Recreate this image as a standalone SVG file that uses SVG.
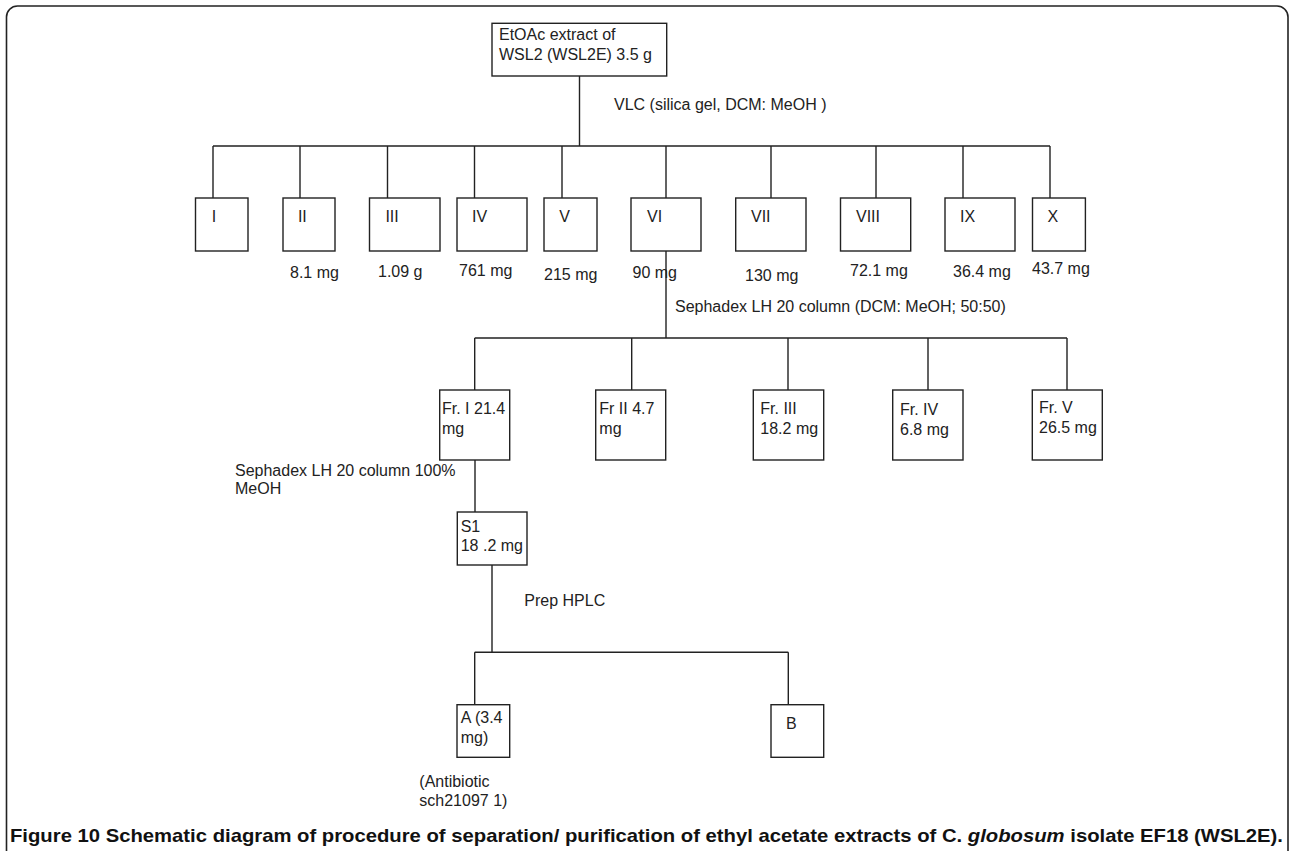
<svg xmlns="http://www.w3.org/2000/svg" width="1289" height="851" viewBox="0 0 1289 851">
<style>
.b{fill:#fff;stroke:#222;stroke-width:1.4}
.t{font-family:"Liberation Sans",Arial,sans-serif;font-size:16px;fill:#222}
.c{fill:none;stroke:#222;stroke-width:1.4}
.cap{font-family:"Liberation Sans Narrow","Liberation Sans",Arial,sans-serif;font-size:18.5px;font-weight:bold;fill:#111}
</style>
<rect x="0" y="0" width="1289" height="851" fill="#fff"/>
<path d="M6.5,851 V17 A11,11 0 0 1 17.5,6 H1277 A11,11 0 0 1 1288,17 V851" fill="none" stroke="#222" stroke-width="1.6"/>
<g id="connectors" class="c">
<path d="M579.5,76 V146 M213,146 H1050 M213,146 V198 M300,146 V198 M387.5,146 V198 M474.5,146 V198 M562,146 V198 M666,146 V198 M771,146 V198 M876,146 V198 M963,146 V198 M1050,146 V198"/>
<path d="M666,251 V338 M474.7,338 H1067 M474.7,338 V390 M631.7,338 V390 M788,338 V390 M928,338 V390 M1067,338 V390"/>
<path d="M475,460 V512"/>
<path d="M492,565 V652.3 M474.7,652.3 H788.3 M474.7,652.3 V704.7 M788.3,652.3 V704.7"/>
</g>
<g id="n-top"><rect class="b" x="492" y="23.3" width="174.7" height="52.7"/><text class="t" x="499" y="39.5">EtOAc extract of</text><text class="t" x="499" y="60">WSL2 (WSL2E) 3.5 g</text></g>
<text class="t" x="614" y="110">VLC (silica gel, DCM: MeOH )</text>
<g id="n-I"><rect class="b" x="195.5" y="198" width="52.5" height="53"/><text class="t" x="211.8" y="222">I</text></g>
<g id="n-II"><rect class="b" x="283" y="198" width="52" height="53"/><text class="t" x="297.9" y="222">II</text><text class="t" x="290" y="278">8.1 mg</text></g>
<g id="n-III"><rect class="b" x="369.5" y="198" width="70.5" height="53"/><text class="t" x="385.4" y="222">III</text><text class="t" x="378" y="277">1.09 g</text></g>
<g id="n-IV"><rect class="b" x="457" y="198" width="70" height="53"/><text class="t" x="472" y="222">IV</text><text class="t" x="459" y="276">761 mg</text></g>
<g id="n-V"><rect class="b" x="544" y="198" width="53" height="53"/><text class="t" x="559.3" y="222">V</text><text class="t" x="544" y="279.5">215 mg</text></g>
<g id="n-VI"><rect class="b" x="631" y="198" width="70" height="53"/><text class="t" x="647" y="222">VI</text><text class="t" x="632.5" y="277.5">90 mg</text></g>
<g id="n-VII"><rect class="b" x="735.7" y="198" width="70.3" height="53"/><text class="t" x="751" y="222">VII</text><text class="t" x="745" y="281">130 mg</text></g>
<g id="n-VIII"><rect class="b" x="840.5" y="198" width="70.2" height="53"/><text class="t" x="856" y="222">VIII</text><text class="t" x="850" y="276">72.1 mg</text></g>
<g id="n-IX"><rect class="b" x="945" y="198" width="70" height="53"/><text class="t" x="960" y="222">IX</text><text class="t" x="953" y="276.5">36.4 mg</text></g>
<g id="n-X"><rect class="b" x="1032.5" y="198" width="52.9" height="53"/><text class="t" x="1047.5" y="222">X</text><text class="t" x="1032" y="273.5">43.7 mg</text></g>
<text class="t" x="675" y="311.7">Sephadex LH 20 column (DCM: MeOH; 50:50)</text>
<g id="n-FrI"><rect class="b" x="439.7" y="390" width="70" height="70"/><text class="t" x="442" y="414">Fr. I 21.4</text><text class="t" x="442" y="434">mg</text></g>
<g id="n-FrII"><rect class="b" x="595.7" y="390" width="70" height="70"/><text class="t" x="599.3" y="414">Fr II 4.7</text><text class="t" x="599.3" y="434">mg</text></g>
<g id="n-FrIII"><rect class="b" x="753.3" y="390" width="70.4" height="70"/><text class="t" x="760.3" y="414">Fr. III</text><text class="t" x="760.3" y="434">18.2 mg</text></g>
<g id="n-FrIV"><rect class="b" x="892.7" y="390" width="70.3" height="70"/><text class="t" x="900" y="415">Fr. IV</text><text class="t" x="900" y="435">6.8 mg</text></g>
<g id="n-FrV"><rect class="b" x="1032.3" y="390" width="70" height="70"/><text class="t" x="1039" y="413">Fr. V</text><text class="t" x="1039" y="433">26.5 mg</text></g>
<text class="t" x="235" y="475.7">Sephadex LH 20 column 100%</text>
<text class="t" x="235" y="494">MeOH</text>
<g id="n-S1"><rect class="b" x="457.3" y="512" width="69.7" height="53"/><text class="t" x="460.7" y="531.7">S1</text><text class="t" x="460.7" y="550.7">18 .2 mg</text></g>
<text class="t" x="524.3" y="605.7">Prep HPLC</text>
<g id="n-A"><rect class="b" x="457" y="704.7" width="52.7" height="52.6"/><text class="t" x="460.7" y="722.7">A (3.4</text><text class="t" x="460.7" y="742.7">mg)</text><text class="t" x="419.3" y="786.7">(Antibiotic</text><text class="t" x="419.3" y="806">sch21097 1)</text></g>
<g id="n-B"><rect class="b" x="771" y="704.7" width="52.7" height="52.6"/><text class="t" x="786" y="728.7">B</text></g>
<text class="cap" x="10" y="842" textLength="1273" lengthAdjust="spacingAndGlyphs">Figure 10 Schematic diagram of procedure of separation/ purification of ethyl acetate extracts of C. <tspan font-style="italic">globosum</tspan> isolate EF18 (WSL2E).</text>
</svg>
